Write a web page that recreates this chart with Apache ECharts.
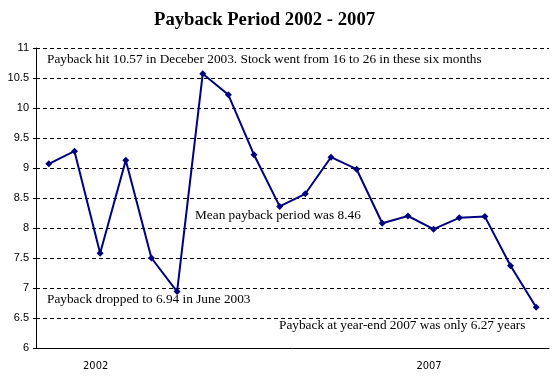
<!DOCTYPE html>
<html><head><meta charset="utf-8">
<script src="https://cdn.jsdelivr.net/npm/echarts@6/dist/echarts.min.js"></script>
<style>html,body{margin:0;padding:0;background:#fff}#c{width:556px;height:378px}</style>
</head><body><div id="c"></div>
<script>
const categories = ['', '', '2002', '', '', '', '', '', '', '', '', '', '', '', '', '2007', '', '', '', ''];
const payback = [9.07, 9.28, 7.58, 9.13, 7.50, 6.94, 10.57, 10.22, 9.22, 8.36, 8.57, 9.18, 8.98, 8.08, 8.20, 7.98, 8.17, 8.19, 7.37, 6.68];
const yTicks = [6, 6.5, 7, 7.5, 8, 8.5, 9, 9.5, 10, 10.5, 11];
const titleText = 'Payback Period 2002 - 2007';
const notes = [
  {text: 'Payback hit 10.57 in Deceber 2003. Stock went from 16 to 26 in these six months', x: 47, y: 61},
  {text: 'Mean payback period was 8.46', x: 195, y: 217},
  {text: 'Payback dropped to 6.94 in June 2003', x: 47, y: 301},
  {text: 'Payback at year-end 2007 was only 6.27 years', x: 279, y: 327}
];
const serif = '"Liberation Serif","Times New Roman",serif';
const chart = echarts.init(document.getElementById('c'), null, {renderer: 'canvas'});
chart.setOption({
  animation: false,
  backgroundColor: '#fff',
  title: {text: titleText, left: 149, top: 6, textStyle: {fontFamily: serif, fontWeight: 'bold', fontSize: 18.7, color: '#000'}},
  grid: {left: 36, right: 7, top: 48, bottom: 30},
  xAxis: {
    type: 'category', data: categories, boundaryGap: true,
    axisLine: {lineStyle: {color: '#000', width: 1}},
    axisTick: {show: false},
    axisLabel: {interval: 0, color: '#000', fontFamily: '"Liberation Sans Narrow","DejaVu Sans Condensed",Arial,sans-serif', fontSize: 11, margin: 13, padding: [0, 9, 0, 0]}
  },
  yAxis: {
    type: 'value', min: yTicks[0], max: yTicks[yTicks.length - 1], interval: 0.5,
    axisLine: {show: true, lineStyle: {color: '#000', width: 1}},
    axisTick: {show: true, length: 3, lineStyle: {color: '#000'}},
    axisLabel: {color: '#000', fontFamily: 'Arial, "Liberation Sans", sans-serif', fontSize: 11, margin: 7},
    splitLine: {show: true, lineStyle: {color: '#000', type: [4, 3], width: 1}}
  },
  series: [{
    type: 'line', data: payback,
    symbol: 'diamond', symbolSize: 7,
    lineStyle: {color: '#000080', width: 2},
    itemStyle: {color: '#000080'}
  }],
  graphic: notes.map(n => ({
    type: 'text', x: n.x, y: n.y - 8,
    style: {text: n.text, fill: '#000', font: '13.3px ' + serif}
  }))
});
</script></body></html>
